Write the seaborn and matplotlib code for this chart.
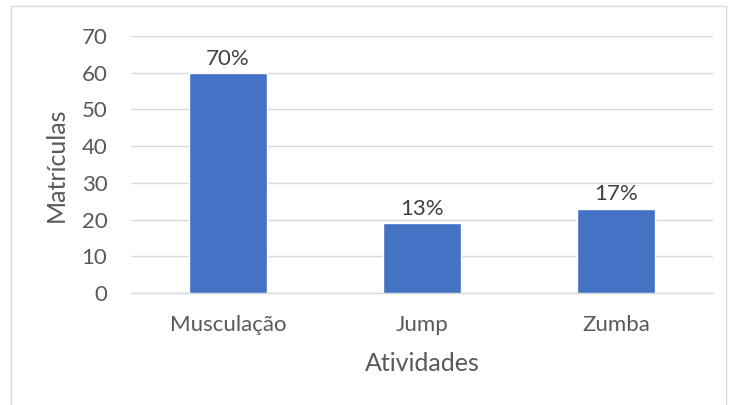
import matplotlib
matplotlib.use("Agg")
import matplotlib.pyplot as plt
import seaborn as sns
import pandas as pd
from matplotlib.patches import Rectangle

categories = ["Musculação", "Jump", "Zumba"]
values = [60, 19, 23]
labels = ["70%", "13%", "17%"]
yticks = [0, 10, 20, 30, 40, 50, 60, 70]

sns.set_theme(style="white")
plt.rcParams['font.family'] = ['Lato', 'DejaVu Sans']

txt = "#595959"
df = pd.DataFrame({"cat": categories, "val": values})

fig = plt.figure(figsize=(7.31, 4.05), dpi=100)
ax = fig.add_axes([131/731, 1-293/405, 582/731, 257/405])
sns.barplot(data=df, x="cat", y="val", color="#4472C4", width=0.4, saturation=1, ax=ax, zorder=3)

ax.set_ylim(0, 70)
ax.set_yticks(yticks)
ax.set_yticklabels([str(t) for t in yticks], fontsize=16, color=txt)
ax.set_xticks(range(len(categories)))
ax.set_xticklabels(categories, fontsize=16, color=txt)
ax.tick_params(axis='both', length=0)
ax.tick_params(axis='y', pad=17)
ax.tick_params(axis='x', pad=16)
ax.yaxis.grid(True, color="#D9D9D9", linewidth=1, zorder=0)
ax.set_axisbelow(True)
for s in ["top", "right", "left"]:
    ax.spines[s].set_visible(False)
ax.spines["bottom"].set_color("#D9D9D9")
ax.spines["bottom"].set_linewidth(1)

for i, (v, l) in enumerate(zip(values, labels)):
    ax.annotate(l, (i, v), xytext=(0, 3), textcoords="offset points",
                ha="center", va="bottom", fontsize=16, color="#404040")

ax.set_xlabel("Atividades", fontsize=18, color=txt, labelpad=12)
ax.set_ylabel("Matrículas", fontsize=18, color=txt, labelpad=10)

fig.patches.append(Rectangle((11/731, -0.01), 715/731, 1 - 6/405 + 0.01, transform=fig.transFigure,
                             fill=False, edgecolor="#D9D9D9", linewidth=1))

fig.savefig("out.png", dpi=100)
